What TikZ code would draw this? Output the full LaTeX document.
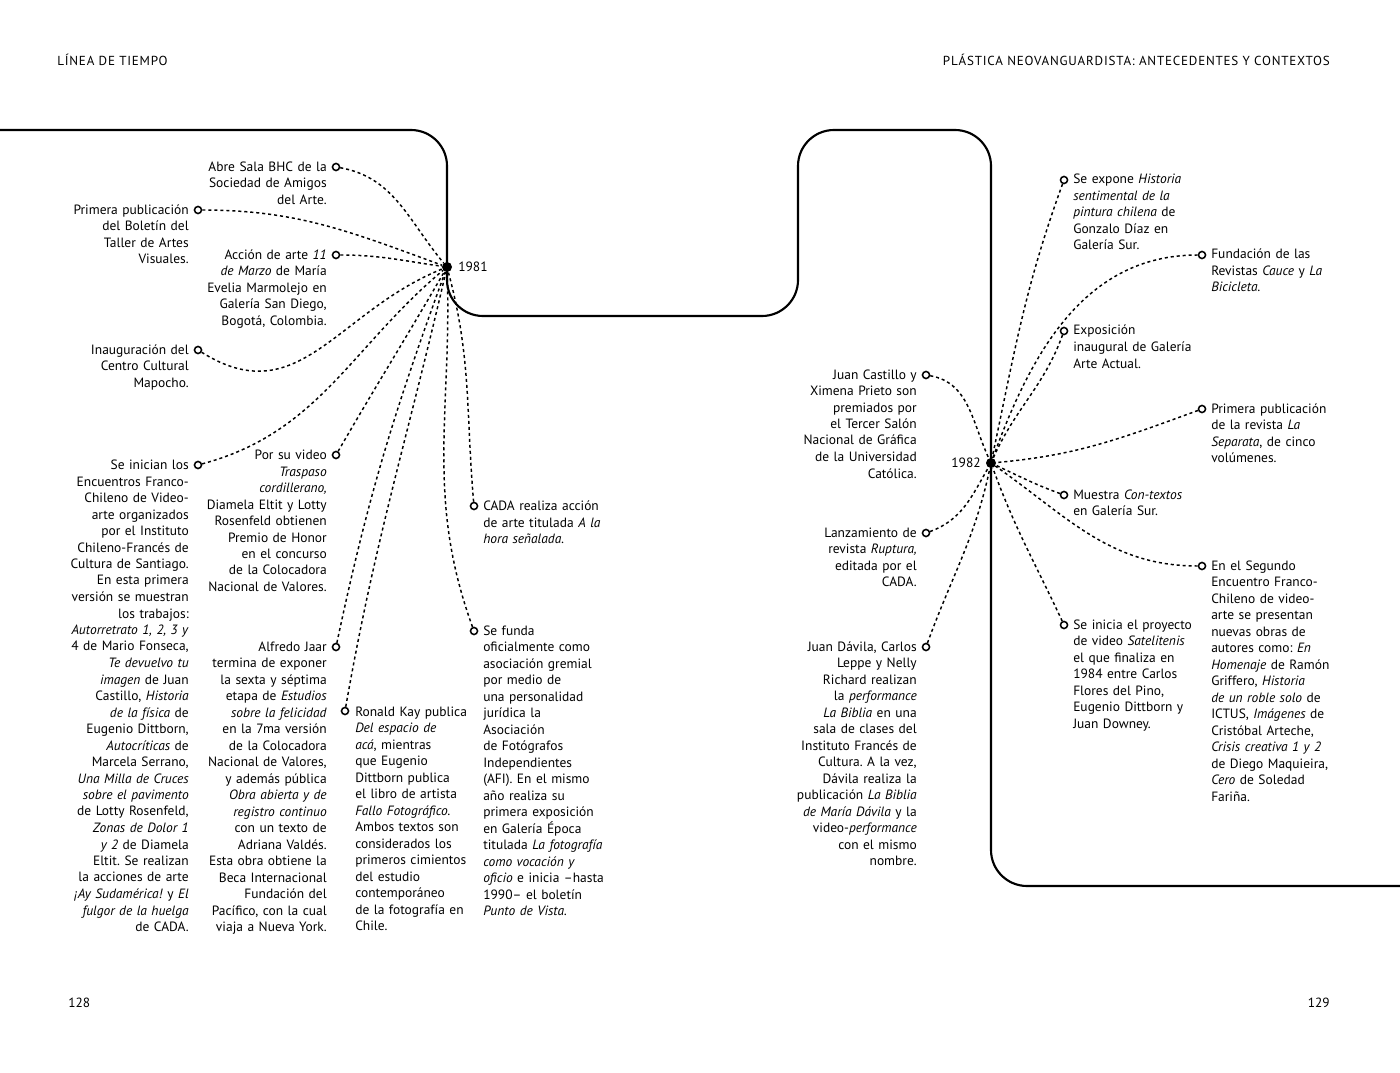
\documentclass[tikz,border=0pt]{standalone}
\usepackage{fontspec}
\setmainfont{PT Sans}
\newfontfamily\hdrfont[LetterSpace=6.0]{PT Sans}
\newcommand{\txtfont}{\fontsize{10.1pt}{12.375pt}\selectfont\frenchspacing}
\begin{document}
\begin{tikzpicture}[x=0.75pt,y=-0.75pt,
  tl/.style={font=\txtfont, align=right, text width=150pt, inner sep=0pt, anchor=base east},
  tr/.style={font=\txtfont, align=left, text width=150pt, inner sep=0pt, anchor=base west},
  oc/.style={circle, draw, line width=1.15pt, fill=white, inner sep=0pt, minimum size=5.3pt},
  hub/.style={circle, fill=black, inner sep=0pt, minimum size=7.5pt},
  conn/.style={line width=1.1pt, dash pattern=on 2.3pt off 2.2pt},
  yr/.style={font=\txtfont, inner sep=0pt},
  hdr/.style={font=\hdrfont\fontsize{9.8pt}{11pt}\selectfont, inner sep=0pt},
  pg/.style={font=\fontsize{10pt}{11pt}\selectfont, inner sep=0pt}]
\useasboundingbox (0,0) rectangle (1400,1073);
\fill[white] (0,0) rectangle (1400,1073);

% headers
\node[hdr, anchor=base west] (h-left) at (57,65.5) {LÍNEA DE TIEMPO};
\node[hdr, anchor=base east] (h-right) at (1330,65.5) {PLÁSTICA NEOVANGUARDISTA: ANTECEDENTES Y CONTEXTOS};
\node[pg, anchor=base west] (p-left) at (68,1007.5) {128};
\node[pg, anchor=base east] (p-right) at (1330,1007.5) {129};

% main timeline
\draw[line width=1.6pt, rounded corners=27pt] (0,130) -| (447,316) -| (798,130) -| (991,886) -- (1400,886);

% hubs
\node[hub] (h1) at (447,267) {};
\node[yr, anchor=west] (y1) at (458,267) {1981};
\node[hub] (h2) at (991,463) {};
\node[yr, anchor=east] (y2) at (981,463) {1982};

% ---------- 1981 ----------
\node[oc] (c1) at (336,167) {};
\node[oc] (c2) at (198,210) {};
\node[oc] (c3) at (336,255) {};
\node[oc] (c4) at (198,350) {};
\node[oc] (c5) at (198,465) {};
\node[oc] (c6) at (336,455) {};
\node[oc] (c7) at (336,647) {};
\node[oc] (c8) at (345,711) {};
\node[oc] (c9) at (474,506) {};
\node[oc] (c10) at (474,631) {};

\draw[conn] (c1) to[out=-10,in=130] (h1);
\draw[conn] (c2) to[out=0,in=160] (h1);
\draw[conn] (c3) to[out=0,in=172] (h1);
\draw[conn] (c4) to[out=-32,in=202,looseness=1.15] (h1);
\draw[conn] (c5) to[out=15,in=220] (h1);
\draw[conn] (c6) to[out=60,in=240] (h1);
\draw[conn] (c7) to[out=78,in=250] (h1);
\draw[conn] (c8) to[out=80,in=257] (h1);
\draw[conn] (c9) to[out=95,in=285] (h1);
\draw[conn] (c10) to[out=110,in=272] (h1);

\node[tl] (t1) at (327,171.5) {Abre Sala BHC de la\\Sociedad de Amigos\\del Arte.};
\node[tl] (t2) at (189,214.5) {Primera publicación\\del Boletín del\\Taller de Artes\\Visuales.};
\node[tl] (t3) at (327,259.5) {Acción de arte \textit{11}\\\textit{de Marzo} de María\\Evelia Marmolejo en\\Galería San Diego,\\Bogotá, Colombia.};
\node[tl] (t4) at (189,354.5) {Inauguración del\\Centro Cultural\\Mapocho.};
\node[tl] (t5) at (189,469.5) {Se inician los\\Encuentros Franco-\\Chileno de Video-\\arte organizados\\por el Instituto\\Chileno-Francés de\\Cultura de Santiago.\\En esta primera\\versión se muestran\\los trabajos:\\\textit{Autorretrato 1, 2, 3 y}\\4 de Mario Fonseca,\\\textit{Te devuelvo tu}\\\textit{imagen} de Juan\\Castillo, \textit{Historia}\\\textit{de la física} de\\Eugenio Dittborn,\\\textit{Autocríticas} de\\Marcela Serrano,\\\textit{Una Milla de Cruces}\\\textit{sobre el pavimento}\\de Lotty Rosenfeld,\\\textit{Zonas de Dolor 1}\\\textit{y 2} de Diamela\\Eltit. Se realizan\\la acciones de arte\\\textit{¡Ay Sudamérica!} y \textit{El}\\\textit{fulgor de la huelga}\\de CADA.};
\node[tl] (t6) at (327,459.5) {Por su video\\\textit{Traspaso}\\\textit{cordillerano,}\\Diamela Eltit y Lotty\\Rosenfeld obtienen\\Premio de Honor\\en el concurso\\de la Colocadora\\Nacional de Valores.};
\node[tl] (t7) at (327,651) {Alfredo Jaar\\termina de exponer\\la sexta y séptima\\etapa de \textit{Estudios}\\\textit{sobre la felicidad}\\en la 7ma versión\\de la Colocadora\\Nacional de Valores,\\y además pública\\\textit{Obra abierta y de}\\\textit{registro continuo}\\con un texto de\\Adriana Valdés.\\Esta obra obtiene la\\Beca Internacional\\Fundación del\\Pacífico, con la cual\\viaja a Nueva York.};
\node[tr] (t8) at (355,716) {Ronald Kay publica\\\textit{Del espacio de}\\\textit{acá}, mientras\\que Eugenio\\Dittborn publica\\el libro de artista\\\textit{Fallo Fotográfico.}\\Ambos textos son\\considerados los\\primeros cimientos\\del estudio\\contemporáneo\\de la fotografía en\\Chile.};
\node[tr] (t9) at (483,510.5) {CADA realiza acción\\de arte titulada \textit{A la}\\\textit{hora señalada.}};
\node[tr] (t10) at (483,635) {Se funda\\oficialmente como\\asociación gremial\\por medio de\\una personalidad\\jurídica la\\Asociación\\de Fotógrafos\\Independientes\\(AFI). En el mismo\\año realiza su\\primera exposición\\en Galería Época\\titulada \textit{La fotografía}\\\textit{como vocación y}\\\textit{oficio} e inicia –hasta\\1990– el boletín\\\textit{Punto de Vista.}};

% ---------- 1982 ----------
\node[oc] (d1) at (926,375) {};
\node[oc] (d2) at (926,533) {};
\node[oc] (d3) at (926,647) {};
\node[oc] (d4) at (1064,180) {};
\node[oc] (d5) at (1202,255) {};
\node[oc] (d6) at (1064,331) {};
\node[oc] (d7) at (1202,409) {};
\node[oc] (d8) at (1064,495) {};
\node[oc] (d9) at (1202,566) {};
\node[oc] (d10) at (1064,625) {};

\draw[conn] (d1) to[out=-10,in=115] (h2);
\draw[conn] (d2) to[out=20,in=240] (h2);
\draw[conn] (d3) to[out=70,in=258] (h2);
\draw[conn] (d4) to[out=250,in=78] (h2);
\draw[conn] (d5) to[out=180,in=70] (h2);
\draw[conn] (d6) to[out=250,in=66] (h2);
\draw[conn] (d7) to[out=200,in=5] (h2);
\draw[conn] (d8) to[out=160,in=-25] (h2);
\draw[conn] (d9) to[out=180,in=-35] (h2);
\draw[conn] (d10) to[out=115,in=-70] (h2);

\node[tl] (u1) at (917,379) {Juan Castillo y\\Ximena Prieto son\\premiados por\\el Tercer Salón\\Nacional de Gráfica\\de la Universidad\\Católica.};
\node[tl] (u2) at (917,537) {Lanzamiento de\\revista \textit{Ruptura,}\\editada por el\\CADA.};
\node[tl] (u3) at (917,651) {Juan Dávila, Carlos\\Leppe y Nelly\\Richard realizan\\la \textit{performance}\\\textit{La Biblia} en una\\sala de clases del\\Instituto Francés de\\Cultura. A la vez,\\Dávila realiza la\\publicación \textit{La Biblia}\\\textit{de María Dávila} y la\\video-\textit{performance}\\con el mismo\\nombre.};
\node[tr] (u4) at (1073,184) {Se expone \textit{Historia}\\\textit{sentimental de la}\\\textit{pintura chilena} de\\Gonzalo Díaz en\\Galería Sur.};
\node[tr] (u5) at (1211,259) {Fundación de las\\Revistas \textit{Cauce} y \textit{La}\\\textit{Bicicleta.}};
\node[tr] (u6) at (1073,335) {Exposición\\inaugural de Galería\\Arte Actual.};
\node[tr] (u7) at (1211,413) {Primera publicación\\de la revista \textit{La}\\\textit{Separata}, de cinco\\volúmenes.};
\node[tr] (u8) at (1073,499) {Muestra \textit{Con-textos}\\en Galería Sur.};
\node[tr] (u9) at (1211,570) {En el Segundo\\Encuentro Franco-\\Chileno de video-\\arte se presentan\\nuevas obras de\\autores como: \textit{En}\\\textit{Homenaje} de Ramón\\Griffero, \textit{Historia}\\\textit{de un roble solo} de\\ICTUS, \textit{Imágenes} de\\Cristóbal Arteche,\\\textit{Crisis creativa 1 y 2}\\de Diego Maquieira,\\\textit{Cero} de Soledad\\Fariña.};
\node[tr] (u10) at (1073,629) {Se inicia el proyecto\\de video \textit{Satelitenis}\\el que finaliza en\\1984 entre Carlos\\Flores del Pino,\\Eugenio Dittborn y\\Juan Downey.};
\end{tikzpicture}
\end{document}
